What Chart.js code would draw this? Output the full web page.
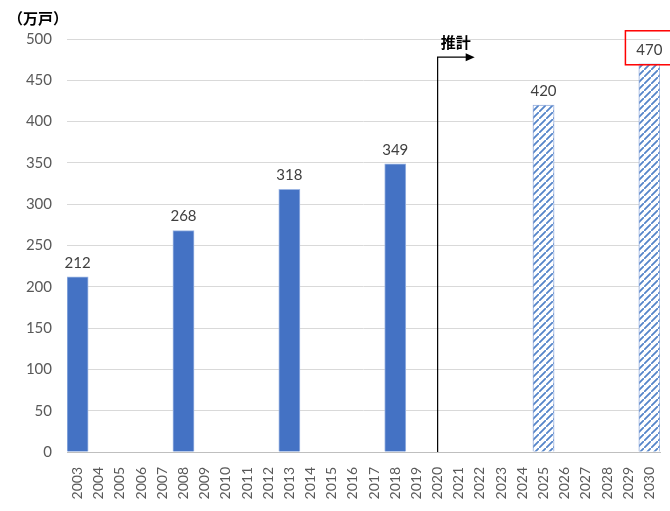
<!DOCTYPE html>
<html>
<head>
<meta charset="utf-8">
<script src="https://cdn.jsdelivr.net/npm/chart.js@4/dist/chart.umd.min.js"></script>
<style>
  html, body { margin: 0; padding: 0; background: #fff; }
  #wrap { width: 670px; height: 511px; }
</style>
</head>
<body>
<div id="wrap"><canvas id="chart1"></canvas></div>
<script>
var years = ['2003','2004','2005','2006','2007','2008','2009','2010','2011','2012',
             '2013','2014','2015','2016','2017','2018','2019','2020','2021','2022',
             '2023','2024','2025','2026','2027','2028','2029','2030'];
// actual survey values (万戸)
var actualValues = [212,null,null,null,null,268,null,null,null,null,
                    318,null,null,null,null,349,null,null,null,null,
                    null,null,null,null,null,null,null,null];
// estimates
var estimateValues = [null,null,null,null,null,null,null,null,null,null,
                      null,null,null,null,null,null,null,null,null,null,
                      null,null,420,null,null,null,null,470];
var yTicks = [0,50,100,150,200,250,300,350,400,450,500];
var unitLabel = '（万戸）';
var estimateLabel = '推計';
var estimateStart = '2020';
var highlightYear = '2030';

var numFont = 'Lato, "Noto Sans", sans-serif';
var jpFont = '"Noto Sans CJK JP", sans-serif';

function makeHatch() {
    var n = 7;
    var c = document.createElement('canvas');
    c.width = n; c.height = n;
    var g = c.getContext('2d');
    g.fillStyle = '#ffffff';
    g.fillRect(0, 0, n, n);
    g.strokeStyle = '#5585c9';
    g.lineWidth = 1.8;
    g.beginPath();
    g.moveTo(-1, n + 1); g.lineTo(n + 1, -1);
    g.moveTo(-n - 1, 1); g.lineTo(1, -n - 1);
    g.moveTo(n - 1, 2 * n + 1); g.lineTo(2 * n + 1, n - 1);
    g.stroke();
    return g.createPattern(c, 'repeat');
}

var extras = {
    id: 'extras',
    afterDatasetsDraw: function (chart) {
        var ctx = chart.ctx;
        var xs = chart.scales.x, ys = chart.scales.y;
        ctx.save();
        // value labels
        ctx.font = '15px ' + numFont;
        ctx.fillStyle = '#404040';
        ctx.textAlign = 'center';
        ctx.textBaseline = 'middle';
        chart.data.datasets.forEach(function (ds, di) {
            var meta = chart.getDatasetMeta(di);
            ds.data.forEach(function (v, i) {
                if (v === null) return;
                var bar = meta.data[i];
                var ly = bar.y - 14;
                ctx.fillText(String(v), bar.x, ly);
                if (years[i] === highlightYear) {
                    ctx.strokeStyle = '#ff0000';
                    ctx.lineWidth = 1.5;
                    ctx.strokeRect(bar.x - 24, ly - 19, 50, 34);
                }
            });
        });
        // estimate arrow
        var ax = xs.getPixelForValue(years.indexOf(estimateStart));
        var ay = ys.getPixelForValue(478);
        var ex = xs.getPixelForValue(years.indexOf(estimateStart) + 1.75);
        ctx.strokeStyle = '#000';
        ctx.lineWidth = 1.2;
        ctx.beginPath();
        ctx.moveTo(ax, ys.getPixelForValue(0));
        ctx.lineTo(ax, ay);
        ctx.lineTo(ex - 8, ay);
        ctx.stroke();
        ctx.fillStyle = '#000';
        ctx.beginPath();
        ctx.moveTo(ex, ay);
        ctx.lineTo(ex - 9, ay - 4);
        ctx.lineTo(ex - 9, ay + 4);
        ctx.closePath();
        ctx.fill();
        ctx.font = 'bold 15px ' + jpFont;
        ctx.textAlign = 'left';
        ctx.fillText(estimateLabel, ax + 3, ys.getPixelForValue(496));
        // unit
        ctx.font = 'bold 15px ' + jpFont;
        ctx.fillStyle = '#000';
        ctx.textAlign = 'left';
        ctx.fillText(unitLabel, 8, 18);
        ctx.restore();
    }
};

document.addEventListener('DOMContentLoaded', function () {
    var ctx = document.getElementById('chart1').getContext('2d');
    var hatch = makeHatch();
    new Chart(ctx, {
        type: 'bar',
        data: {
            labels: years,
            datasets: [{
                data: actualValues,
                backgroundColor: '#4472c4',
                borderColor: '#9db6e3',
                borderWidth: 1,
                barPercentage: 1,
                categoryPercentage: 1,
                grouped: false
            }, {
                data: estimateValues,
                backgroundColor: hatch,
                borderColor: '#8faadc',
                borderWidth: 1,
                barPercentage: 1,
                categoryPercentage: 1,
                grouped: false
            }]
        },
        options: {
            responsive: true,
            maintainAspectRatio: false,
            animation: false,
            devicePixelRatio: 1,
            layout: { padding: { left: 0, right: 10, top: 39, bottom: 0 } },
            plugins: {
                legend: { display: false },
                tooltip: { enabled: false }
            },
            scales: {
                x: {
                    grid: { display: false },
                    border: { color: '#bfbfbf' },
                    ticks: {
                        autoSkip: false,
                        maxRotation: 90,
                        minRotation: 90,
                        color: '#595959',
                        font: { family: numFont, size: 14 },
                        padding: 7
                    },
                    afterFit: function (s) {
                        s.height = 59;
                        s.paddingLeft = 0;
                        s.paddingRight = 0;
                    }
                },
                y: {
                    min: 0,
                    max: 500,
                    afterBuildTicks: function (s) {
                        s.ticks = yTicks.map(function (v) { return { value: v }; });
                    },
                    grid: { color: '#d9d9d9', drawTicks: false },
                    border: { display: false },
                    ticks: {
                        color: '#595959',
                        font: { family: numFont, size: 15 },
                        padding: 15
                    },
                    afterFit: function (s) { s.width = 67; }
                }
            }
        },
        plugins: [extras]
    });
});
</script>
</body>
</html>
